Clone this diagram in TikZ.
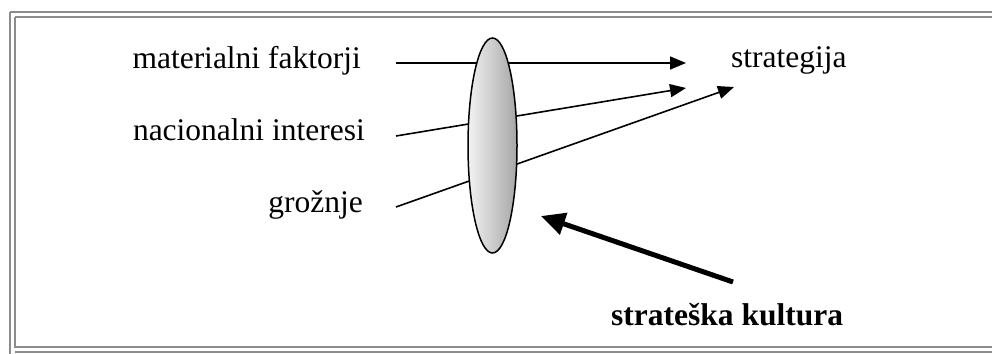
\documentclass[tikz,border=0pt]{standalone}
\usepackage{fontspec}
\setmainfont{Liberation Serif}
\usetikzlibrary{arrows.meta,shapes.geometric}
\begin{document}
\begin{tikzpicture}[x=1pt,y=-1pt,
  lbl/.style={inner sep=0pt,font=\fontsize{31.5}{36}\selectfont},
  thin arrow/.style={line width=1.6pt,-{Triangle[length=16pt,width=13pt]}},
  thick arrow/.style={line width=5pt,-{Triangle[length=24pt,width=22pt]}},
  frameline/.style={draw=gray!90,line width=2pt}]
\useasboundingbox (0,0) rectangle (992,353);
% frame
\draw[frameline] (10,12) -- (1005,12);
\draw[frameline] (10,12) -- (10,360);
\draw[frameline] (15,352) -- (1005,352);
\draw[frameline] (15,17) -- (1005,17);
\draw[frameline] (15,17) -- (15,347) -- (1005,347);
% texts
\node[lbl,anchor=base east] (mat) at (361,68) {materialni faktorji};
\node[lbl,anchor=base east] (nac) at (365,140) {nacionalni interesi};
\node[lbl,anchor=base east] (gro) at (363,212) {grožnje};
\node[lbl,anchor=base west] (str) at (731,67) {strategija};
\node[lbl,anchor=base west,font=\fontsize{31.5}{36}\selectfont\bfseries] (kul) at (611,325) {strateška kultura};
% coordinates
\coordinate (s1) at (396,63);
\coordinate (s2) at (396,136);
\coordinate (s3) at (396,207);
\coordinate (t1) at (686,63);
\coordinate (t2) at (686,88);
\coordinate (t3) at (734,87);
\coordinate (k1) at (733,282);
\coordinate (k2) at (541,216);
% arrows (behind the lens)
\draw[thin arrow] (s1) -- (t1);
\draw[thin arrow] (s2) -- (t2);
\draw[thin arrow] (s3) -- (t3);
\draw[thick arrow] (k1) -- (k2);
% lens on top
\node[ellipse,draw=black,line width=1.5pt,minimum width=49pt,minimum height=215pt,inner sep=0pt,
  left color=gray!10,right color=gray!70] (lens) at (492.5,145.5) {};
\end{tikzpicture}
\end{document}
